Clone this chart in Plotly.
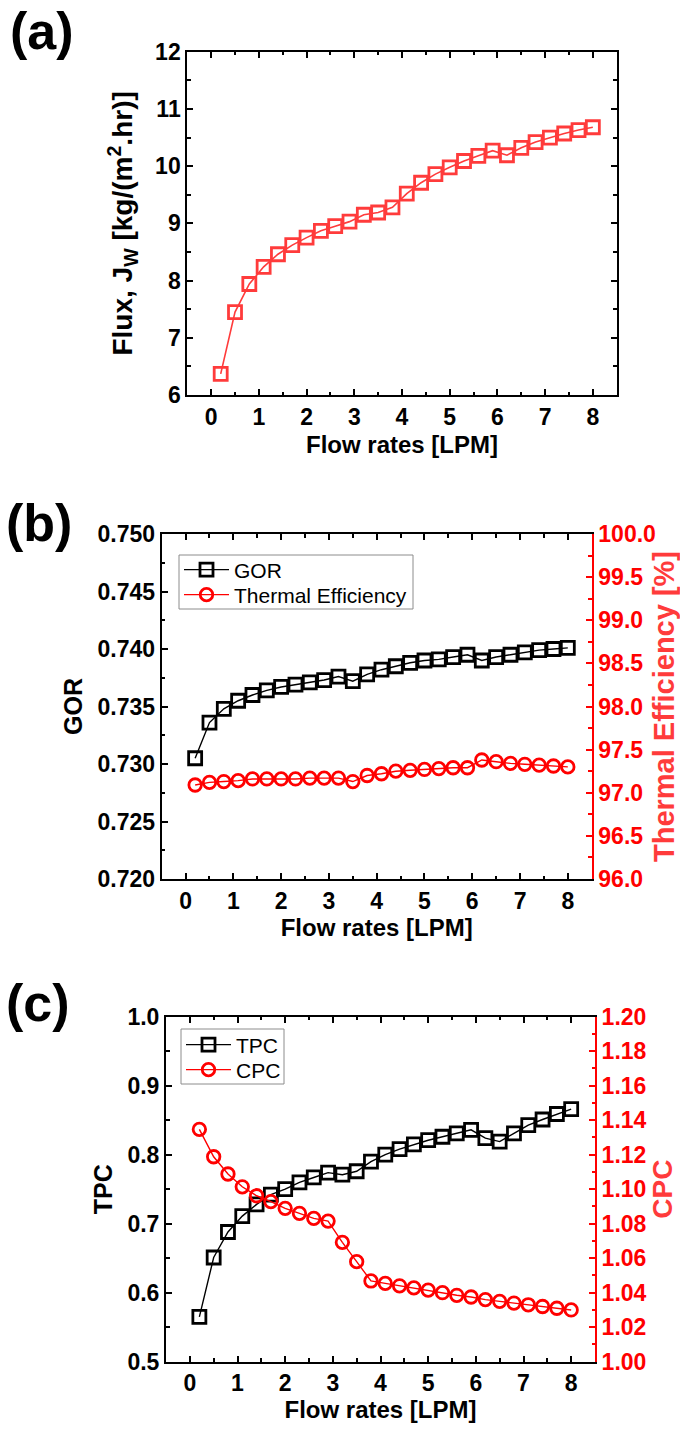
import plotly.graph_objects as go

# ---------------- data ----------------
flow = [0.2, 0.5, 0.8, 1.1, 1.4, 1.7, 2.0, 2.3, 2.6, 2.9, 3.2, 3.5, 3.8, 4.1,
        4.4, 4.7, 5.0, 5.3, 5.6, 5.9, 6.2, 6.5, 6.8, 7.1, 7.4, 7.7, 8.0]

flux = [6.37, 7.45, 7.94, 8.24, 8.46, 8.62, 8.75, 8.87, 8.95, 9.03, 9.15, 9.19,
        9.28, 9.52, 9.71, 9.86, 9.98, 10.09, 10.18, 10.27, 10.19, 10.32, 10.42,
        10.50, 10.57, 10.63, 10.68]

gor = [0.7305, 0.7336, 0.7348, 0.7355, 0.7360, 0.7364, 0.7367, 0.7369, 0.7371,
       0.7373, 0.7376, 0.7372, 0.7378, 0.7382, 0.7385, 0.7388, 0.7390, 0.7391,
       0.7393, 0.7395, 0.7390, 0.7393, 0.7395, 0.7397, 0.7399, 0.7400, 0.7401]

thermal_eff = [97.09, 97.12, 97.13, 97.14, 97.16, 97.16, 97.16, 97.16, 97.17,
               97.17, 97.17, 97.13, 97.20, 97.22, 97.25, 97.26, 97.27, 97.28,
               97.29, 97.29, 97.38, 97.36, 97.34, 97.33, 97.32, 97.31, 97.30]

tpc = [0.565, 0.651, 0.688, 0.711, 0.728, 0.742, 0.750, 0.760, 0.767, 0.774,
       0.771, 0.776, 0.790, 0.800, 0.808, 0.815, 0.821, 0.826, 0.831, 0.836,
       0.824, 0.819, 0.831, 0.843, 0.851, 0.859, 0.866]

cpc = [1.1347, 1.1188, 1.1088, 1.1014, 1.0962, 1.0928, 1.0889, 1.0860, 1.0831,
       1.0815, 1.0692, 1.0580, 1.0468, 1.0454, 1.0440, 1.0428, 1.0415, 1.0400,
       1.0385, 1.0375, 1.0360, 1.0350, 1.0340, 1.0330, 1.0320, 1.0310, 1.0300]

x_title = "Flow rates [LPM]"
flux_title = "Flux, J<sub>W</sub> [kg/(m<sup>2</sup>.hr)]"

# ---------------- style ----------------
FONT = "Liberation Sans, Arial, sans-serif"
RED = "#FF0000"
RED_A = "#FF3B3B"
W, H = 680, 1435
TICKF = dict(family=FONT, size=23, color="black", weight="bold")
TITLEF = dict(family=FONT, size=24, color="black", weight="bold")
LEGF = dict(family=FONT, size=21, color="black")


def px_dom_x(a, b):
    return [a / W, b / W]


def px_dom_y(top, bottom):
    return [1 - bottom / H, 1 - top / H]


def axis_common(color="black", **kw):
    d = dict(
        showline=True, linecolor=color, linewidth=2,
        ticks="inside", ticklen=6, tickwidth=2, tickcolor=color,
        minor=dict(ticks="inside", ticklen=3.5, tickwidth=2, tickcolor=color),
        showgrid=False, zeroline=False, automargin=False,
        tickfont=dict(TICKF, color=color),
    )
    d.update(kw)
    return d


def leg(x_px, yc_px):
    return dict(x=x_px / W, y=1 - yc_px / H, xanchor="left", yanchor="middle",
                bgcolor="rgba(0,0,0,0)", borderwidth=0, font=LEGF,
                itemwidth=45, tracegroupgap=0)


fig = go.Figure()

# (a)
fig.add_trace(go.Scatter(
    x=flow, y=flux, mode="lines+markers", xaxis="x", yaxis="y",
    line=dict(color=RED_A, width=1.6),
    marker=dict(symbol="square-open", size=13, line=dict(width=2.8, color=RED_A)),
    showlegend=False))

# (b)
fig.add_trace(go.Scatter(
    x=flow, y=gor, mode="lines+markers", name="GOR", xaxis="x2", yaxis="y2",
    line=dict(color="black", width=1.4),
    marker=dict(symbol="square-open", size=13, line=dict(width=2.8, color="black")),
    legend="legend"))
fig.add_trace(go.Scatter(
    x=flow, y=thermal_eff, mode="lines+markers", name="Thermal Efficiency",
    xaxis="x2", yaxis="y3",
    line=dict(color=RED, width=1.4),
    marker=dict(symbol="circle-open", size=12.5, line=dict(width=2.8, color=RED)),
    legend="legend2"))

# (c)
fig.add_trace(go.Scatter(
    x=flow, y=tpc, mode="lines+markers", name="TPC", xaxis="x3", yaxis="y4",
    line=dict(color="black", width=1.4),
    marker=dict(symbol="square-open", size=13, line=dict(width=2.8, color="black")),
    legend="legend3"))
fig.add_trace(go.Scatter(
    x=flow, y=cpc, mode="lines+markers", name="CPC", xaxis="x3", yaxis="y5",
    line=dict(color=RED, width=1.4),
    marker=dict(symbol="circle-open", size=12.5, line=dict(width=2.8, color=RED)),
    legend="legend4"))

xr = [-0.5, 8.5]


def rect_px(x0, y0, x1, y1):
    return dict(type="rect", xref="paper", yref="paper",
                x0=x0 / W, x1=x1 / W, y0=1 - y1 / H, y1=1 - y0 / H,
                line=dict(color="#8c8c8c", width=1), fillcolor="white",
                layer="above")


fig.update_layout(
    width=W, height=H,
    margin=dict(l=0, r=0, t=0, b=0),
    paper_bgcolor="white", plot_bgcolor="white",
    font=dict(family=FONT),
    # panel (a)
    xaxis=axis_common(domain=px_dom_x(187.3, 616.7), anchor="y", range=xr,
                      dtick=1, tick0=0, mirror="ticks",
                      minor_dtick=0.5,
                      title=dict(text=x_title, font=TITLEF, standoff=8)),
    yaxis=axis_common(domain=px_dom_y(51.7, 395), anchor="x", range=[6, 12],
                      dtick=1, tick0=6, mirror="ticks", minor_dtick=0.5,
                      title=dict(text=flux_title, font=dict(TITLEF, size=28),
                                 standoff=14)),
    # panel (b)
    xaxis2=axis_common(domain=px_dom_x(161.7, 591.7), anchor="y2", range=xr,
                       dtick=1, tick0=0, mirror="ticks", minor_dtick=0.5,
                       title=dict(text=x_title, font=TITLEF, standoff=4)),
    yaxis2=axis_common(domain=px_dom_y(534, 879), anchor="x2", range=[0.720, 0.750],
                       dtick=0.005, tick0=0.72, tickformat=".3f", minor_dtick=0.0025,
                       title=dict(text="GOR", font=dict(TITLEF, size=25), standoff=8)),
    yaxis3=axis_common(color=RED, overlaying="y2", side="right", anchor="x2",
                       range=[96, 100], dtick=0.5, tick0=96, tickformat=".1f",
                       minor_dtick=0.25,
                       title=dict(text="Thermal Efficiency [%]",
                                  font=dict(TITLEF, color=RED_A, size=29), standoff=3)),
    # panel (c)
    xaxis3=axis_common(domain=px_dom_x(166, 595), anchor="y4", range=xr,
                       dtick=1, tick0=0, mirror="ticks", minor_dtick=0.5,
                       title=dict(text=x_title, font=TITLEF, standoff=4)),
    yaxis4=axis_common(domain=px_dom_y(1016.7, 1361.7), anchor="x3", range=[0.5, 1.0],
                       dtick=0.1, tick0=0.5, tickformat=".1f", minor_dtick=0.05,
                       title=dict(text="TPC", font=dict(TITLEF, size=25), standoff=8)),
    yaxis5=axis_common(color=RED, overlaying="y4", side="right", anchor="x3",
                       range=[1.0, 1.2], dtick=0.02, tick0=1.0, tickformat=".2f",
                       minor_dtick=0.01,
                       title=dict(text="CPC", font=dict(TITLEF, color=RED_A, size=28),
                                  standoff=4)),
    legend=leg(179, 570),
    legend2=leg(179, 595),
    legend3=leg(181, 1045),
    legend4=leg(181, 1070),
    shapes=[rect_px(179, 555, 413, 609), rect_px(181, 1029, 284, 1084)],
    annotations=[
        dict(text="(a)", x=8 / W, y=1 - 0 / H, xref="paper", yref="paper",
             xanchor="left", yanchor="top", showarrow=False,
             font=dict(family=FONT, size=52, color="black", weight="bold")),
        dict(text="(b)", x=4 / W, y=1 - 492 / H, xref="paper", yref="paper",
             xanchor="left", yanchor="top", showarrow=False,
             font=dict(family=FONT, size=52, color="black", weight="bold")),
        dict(text="(c)", x=4 / W, y=1 - 972 / H, xref="paper", yref="paper",
             xanchor="left", yanchor="top", showarrow=False,
             font=dict(family=FONT, size=52, color="black", weight="bold")),
    ],
)

fig.write_html("out.html")
